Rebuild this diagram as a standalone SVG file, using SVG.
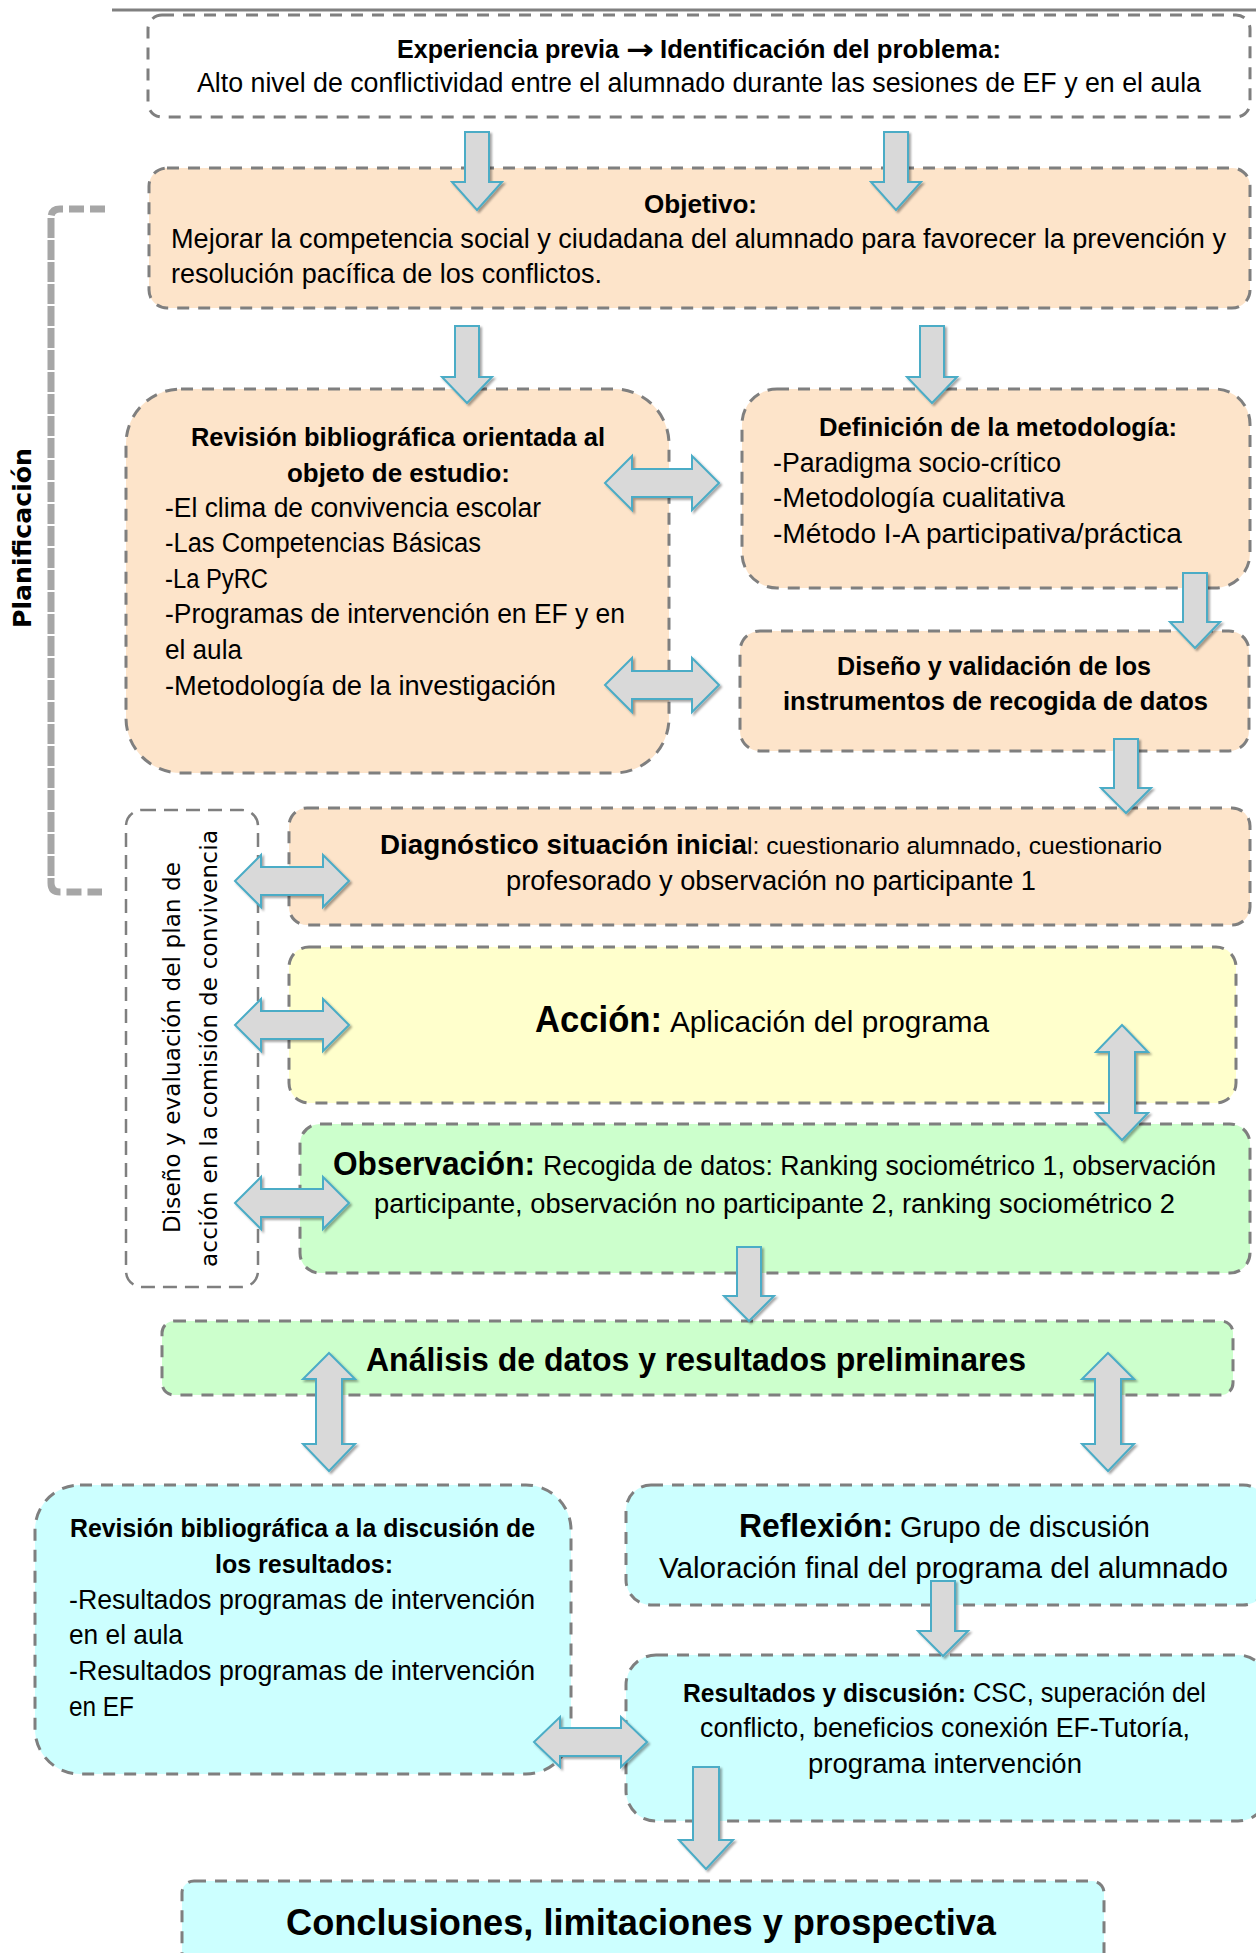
<svg xmlns="http://www.w3.org/2000/svg" width="1256" height="1953" viewBox="0 0 1256 1953">
  <defs>
    <filter id="sh" x="-20%" y="-20%" width="150%" height="150%">
      <feDropShadow dx="2" dy="2" stdDeviation="1" flood-color="#000" flood-opacity="0.35"/>
    </filter>
  </defs>
  <style>
    .box { stroke:#7f7f7f; stroke-width:3; stroke-dasharray:12 9; }
    .thin { stroke:#7f7f7f; stroke-width:2.5; stroke-dasharray:14 8; }
    .white { fill:#ffffff; }
    .peach { fill:#FDE4CA; }
    .yellow { fill:#FFFFCC; }
    .green { fill:#CCFFCC; }
    .cyan { fill:#CCFFFF; }
    .arrow { fill:#D9D9D9; stroke:#4BACC6; stroke-width:2; filter:url(#sh); }
    .bracket { fill:none; stroke:#A6A6A6; stroke-width:7; }
    text { font-family:"Liberation Sans", Arial, sans-serif; fill:#000; }
    .b { font-weight:bold; }
    .r11 { font-size:27px; }
    .b11 { font-size:26px; font-weight:bold; }
    .r12 { font-size:29.5px; }
    .b14 { font-size:32.5px; font-weight:bold; }
    .b16 { font-size:37px; font-weight:bold; }
    .vert { font-family:"DejaVu Sans", Verdana, sans-serif; }
  </style>

  <!-- page rule at the top -->
  <line x1="112" y1="10" x2="1256" y2="10" stroke="#808080" stroke-width="3"/>

  <!-- planning bracket -->
  <g id="planificacion">
    <path class="bracket" d="M105,209 H60 Q51,209 51,218" stroke-dasharray="15 6"/>
    <path class="bracket" d="M51,218 V883" stroke-dasharray="20 2"/>
    <path class="bracket" d="M51,883 Q51,892 60,892 H102" stroke-dasharray="15 6"/>
    <text class="vert b" font-size="25" text-anchor="middle" textLength="180" lengthAdjust="spacingAndGlyphs" transform="translate(31,538) rotate(-90)">Planificación</text>
  </g>

  <g id="experiencia">
    <rect class="box white" x="148" y="15" width="1102" height="102" rx="14"/>
    <text class="b11" x="397" y="58" textLength="222" lengthAdjust="spacingAndGlyphs">Experiencia previa</text>
    <text class="vert b" font-size="28" x="626" y="59" textLength="28" lengthAdjust="spacingAndGlyphs">→</text>
    <text class="b11" x="660" y="58" textLength="341" lengthAdjust="spacingAndGlyphs">Identificación del problema:</text>
    <text class="r11" x="197" y="92" textLength="1004" lengthAdjust="spacingAndGlyphs">Alto nivel de conflictividad entre el alumnado durante las sesiones de EF y en el aula</text>
  </g>

  <g id="objetivo">
    <rect class="box peach" x="149" y="168" width="1101" height="140" rx="18"/>
    <text class="b11" x="644" y="213" textLength="113" lengthAdjust="spacingAndGlyphs">Objetivo:</text>
    <text class="r11" x="171" y="248" textLength="1055" lengthAdjust="spacingAndGlyphs">Mejorar la competencia social y ciudadana del alumnado para favorecer la prevención y</text>
    <text class="r11" x="171" y="283" textLength="431" lengthAdjust="spacingAndGlyphs">resolución pacífica de los conflictos.</text>
  </g>

  <g id="revision-bibliografica">
    <rect class="box peach" x="126" y="389" width="543" height="384" rx="55"/>
    <text class="b11" x="191" y="446" textLength="414" lengthAdjust="spacingAndGlyphs">Revisión bibliográfica orientada al</text>
    <text class="b11" x="287" y="482" textLength="223" lengthAdjust="spacingAndGlyphs">objeto de estudio:</text>
    <text class="r11" x="165" y="517" textLength="376" lengthAdjust="spacingAndGlyphs">-El clima de convivencia escolar</text>
    <text class="r11" x="165" y="552" textLength="316" lengthAdjust="spacingAndGlyphs">-Las Competencias Básicas</text>
    <text class="r11" x="165" y="588" textLength="103" lengthAdjust="spacingAndGlyphs">-La PyRC</text>
    <text class="r11" x="165" y="623" textLength="460" lengthAdjust="spacingAndGlyphs">-Programas de intervención en EF y en</text>
    <text class="r11" x="165" y="659" textLength="77" lengthAdjust="spacingAndGlyphs">el aula</text>
    <text class="r11" x="165" y="695" textLength="391" lengthAdjust="spacingAndGlyphs">-Metodología de la investigación</text>
  </g>

  <g id="metodologia">
    <rect class="box peach" x="742" y="389" width="508" height="199" rx="35"/>
    <text class="b11" x="819" y="436" textLength="358" lengthAdjust="spacingAndGlyphs">Definición de la metodología:</text>
    <text class="r11" x="773" y="472" textLength="288" lengthAdjust="spacingAndGlyphs">-Paradigma socio-crítico</text>
    <text class="r11" x="773" y="507" textLength="292" lengthAdjust="spacingAndGlyphs">-Metodología cualitativa</text>
    <text class="r11" x="773" y="543" textLength="409" lengthAdjust="spacingAndGlyphs">-Método I-A participativa/práctica</text>
  </g>

  <g id="instrumentos">
    <rect class="box peach" x="740" y="631" width="509" height="120" rx="20"/>
    <text class="b11" x="837" y="675" textLength="314" lengthAdjust="spacingAndGlyphs">Diseño y validación de los</text>
    <text class="b11" x="783" y="710" textLength="425" lengthAdjust="spacingAndGlyphs">instrumentos de recogida de datos</text>
  </g>

  <g id="comision-convivencia">
    <rect class="thin white" x="126" y="810" width="132" height="477" rx="16"/>
    <text class="vert" font-size="23" text-anchor="middle" textLength="371" lengthAdjust="spacing" transform="translate(180,1047.5) rotate(-90)">Diseño y evaluación del plan de</text>
    <text class="vert" font-size="23" text-anchor="middle" textLength="437" lengthAdjust="spacing" transform="translate(217,1048.5) rotate(-90)">acción en la comisión de convivencia</text>
  </g>

  <g id="diagnostico">
    <rect class="box peach" x="289" y="808" width="961" height="117" rx="18"/>
    <text class="b" font-size="28" x="380" y="854" textLength="367" lengthAdjust="spacingAndGlyphs">Diagnóstico situación inicia</text>
    <text font-size="24.5" x="747" y="854" textLength="415" lengthAdjust="spacingAndGlyphs">l: cuestionario alumnado, cuestionario</text>
    <text class="r11" x="506" y="890" textLength="530" lengthAdjust="spacingAndGlyphs">profesorado y observación no participante 1</text>
  </g>

  <g id="accion">
    <rect class="box yellow" x="289" y="947" width="947" height="156" rx="20"/>
    <text class="b16" x="535" y="1032" textLength="127" lengthAdjust="spacingAndGlyphs">Acción:</text>
    <text class="r12" x="670" y="1032" textLength="319" lengthAdjust="spacingAndGlyphs">Aplicación del programa</text>
  </g>

  <g id="observacion">
    <rect class="box green" x="300" y="1124" width="950" height="149" rx="20"/>
    <text class="b14" x="333" y="1175" textLength="202" lengthAdjust="spacingAndGlyphs">Observación:</text>
    <text class="r11" x="543" y="1175" textLength="673" lengthAdjust="spacingAndGlyphs">Recogida de datos: Ranking sociométrico 1, observación</text>
    <text class="r11" x="374" y="1213" textLength="801" lengthAdjust="spacingAndGlyphs">participante, observación no participante 2, ranking sociométrico 2</text>
  </g>

  <g id="analisis">
    <rect class="box green" x="162" y="1321" width="1071" height="74" rx="12"/>
    <text class="b14" x="366" y="1371" textLength="660" lengthAdjust="spacingAndGlyphs">Análisis de datos y resultados preliminares</text>
  </g>

  <g id="revision-discusion">
    <rect class="box cyan" x="35" y="1485" width="536" height="289" rx="45"/>
    <text class="b11" x="70" y="1537" textLength="465" lengthAdjust="spacingAndGlyphs">Revisión bibliográfica a la discusión de</text>
    <text class="b11" x="215" y="1573" textLength="178" lengthAdjust="spacingAndGlyphs">los resultados:</text>
    <text class="r11" x="69" y="1609" textLength="466" lengthAdjust="spacingAndGlyphs">-Resultados programas de intervención</text>
    <text class="r11" x="69" y="1644" textLength="114" lengthAdjust="spacingAndGlyphs">en el aula</text>
    <text class="r11" x="69" y="1680" textLength="466" lengthAdjust="spacingAndGlyphs">-Resultados programas de intervención</text>
    <text class="r11" x="69" y="1716" textLength="65" lengthAdjust="spacingAndGlyphs">en EF</text>
  </g>

  <g id="reflexion">
    <rect class="box cyan" x="626" y="1485" width="642" height="120" rx="25"/>
    <text class="b14" x="739" y="1537" textLength="154" lengthAdjust="spacingAndGlyphs">Reflexión:</text>
    <text class="r12" x="900" y="1537" textLength="250" lengthAdjust="spacingAndGlyphs">Grupo de discusión</text>
    <text class="r12" x="659" y="1578" textLength="569" lengthAdjust="spacingAndGlyphs">Valoración final del programa del alumnado</text>
  </g>

  <g id="resultados">
    <rect class="box cyan" x="626" y="1655" width="642" height="166" rx="30"/>
    <text class="b11" x="683" y="1702" textLength="283" lengthAdjust="spacingAndGlyphs">Resultados y discusión:</text>
    <text class="r11" x="973" y="1702" textLength="233" lengthAdjust="spacingAndGlyphs">CSC, superación del</text>
    <text class="r11" x="700" y="1737" textLength="490" lengthAdjust="spacingAndGlyphs">conflicto, beneficios conexión EF-Tutoría,</text>
    <text class="r11" x="808" y="1773" textLength="274" lengthAdjust="spacingAndGlyphs">programa intervención</text>
  </g>

  <g id="conclusiones">
    <rect class="box cyan" x="182" y="1881" width="922" height="110" rx="12"/>
    <text class="b16" x="286" y="1935" textLength="710" lengthAdjust="spacingAndGlyphs">Conclusiones, limitaciones y prospectiva</text>
  </g>

  <!-- block arrows between the stages -->
  <g id="connectors">
    <path class="arrow" d="M465,132 H489 V182 H502 L477,210 L452,182 H465 Z"/>
    <path class="arrow" d="M884,132 H908 V182 H921 L896,210 L871,182 H884 Z"/>
    <path class="arrow" d="M455,326 H479 V377 H492 L467,403 L442,377 H455 Z"/>
    <path class="arrow" d="M920,326 H944 V377 H957 L932,403 L907,377 H920 Z"/>
    <path class="arrow" d="M1183,573 H1207 V622 H1220 L1195,648 L1170,622 H1183 Z"/>
    <path class="arrow" d="M1114,739 H1138 V788 H1151 L1126,813 L1101,788 H1114 Z"/>
    <path class="arrow" d="M737,1247 H761 V1296 H774 L749,1321 L724,1296 H737 Z"/>
    <path class="arrow" d="M931,1581 H955 V1631 H968 L943,1656 L918,1631 H931 Z"/>
    <path class="arrow" d="M693,1767 H719 V1840 H733 L706,1869 L679,1840 H693 Z"/>

    <path class="arrow" d="M605,483 L632,456 V469 H692 V456 L719,483 L692,510 V497 H632 V510 Z"/>
    <path class="arrow" d="M605,685 L632,658 V671 H692 V658 L719,685 L692,712 V699 H632 V712 Z"/>
    <path class="arrow" d="M235,881 L261,855 V867 H323 V855 L349,881 L323,907 V895 H261 V907 Z"/>
    <path class="arrow" d="M235,1025 L261,999 V1011 H323 V999 L349,1025 L323,1051 V1039 H261 V1051 Z"/>
    <path class="arrow" d="M235,1203 L261,1177 V1189 H323 V1177 L349,1203 L323,1229 V1217 H261 V1229 Z"/>
    <path class="arrow" d="M534,1742 L560,1717 V1728 H621 V1717 L647,1742 L621,1767 V1756 H560 V1767 Z"/>

    <path class="arrow" d="M1122,1025 L1148,1052 H1135 V1113 H1148 L1122,1140 L1096,1113 H1109 V1052 H1096 Z"/>
    <path class="arrow" d="M329,1353 L355,1379 H342 V1444 H355 L329,1471 L303,1444 H316 V1379 H303 Z"/>
    <path class="arrow" d="M1108,1353 L1134,1379 H1121 V1444 H1134 L1108,1471 L1082,1444 H1095 V1379 H1082 Z"/>
  </g>
</svg>
